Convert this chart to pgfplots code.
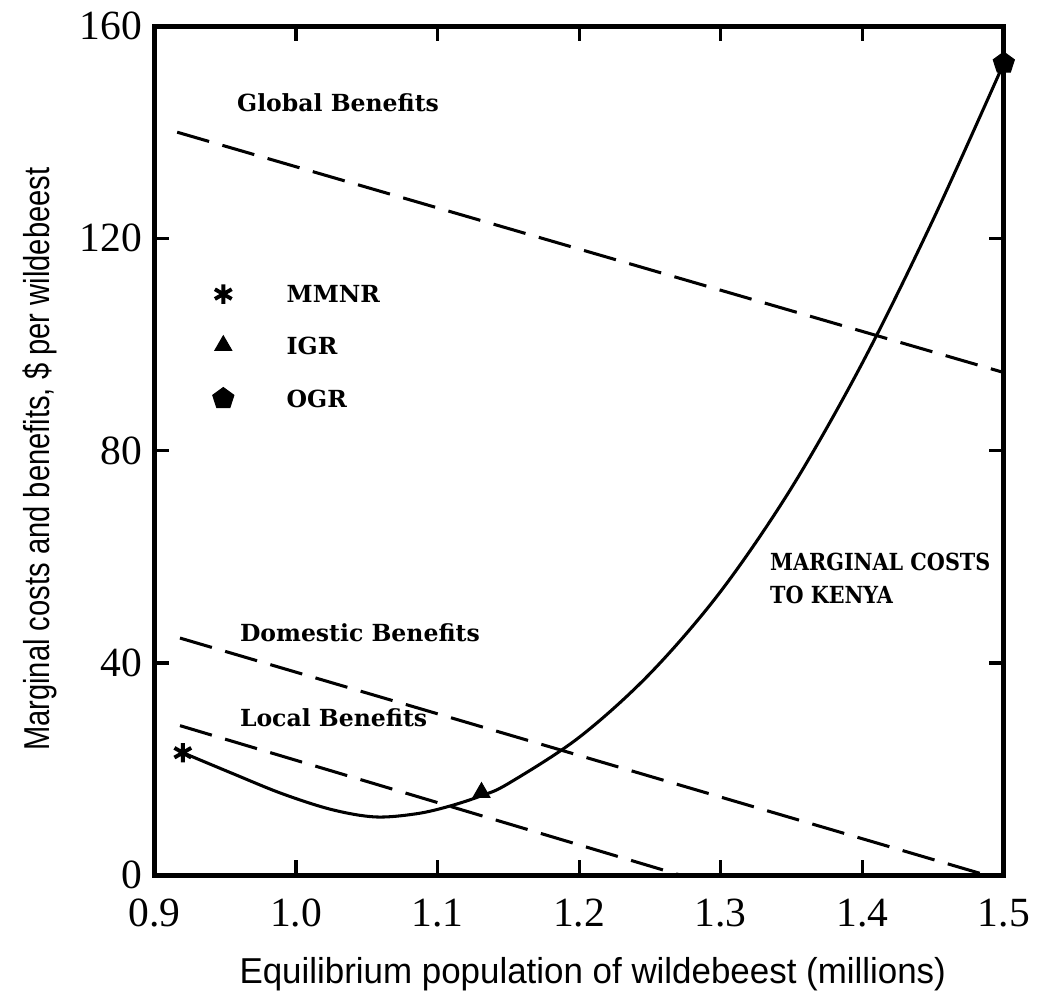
\documentclass[border=0pt]{standalone}
\usepackage{pgfplots}
\pgfplotsset{compat=1.18}
\usepackage{fontspec}
\setmainfont{Liberation Serif}
\setsansfont{Liberation Sans}
\newfontfamily\notefont{DejaVu Serif}

\newcommand{\note}{\notefont\bfseries\fontsize{8.5}{11.5}\selectfont}

\begin{document}
\begin{tikzpicture}
	\begin{axis}[
			scale only axis,
			width=306.7pt,
			height=306.7pt,
			xmin=0.9, xmax=1.5,
			ymin=0, ymax=160,
			xtick={0.9,1,1.1,1.2,1.3,1.4,1.5},
			xticklabels={0.9,1.0,1.1,1.2,1.3,1.4,1.5},
			ytick={0,40,80,120,160},
			tick align=inside,
			major tick length=5.4pt,
			axis line style={line width=1.8pt},
			tick style={line width=1.2pt, black},
			ticklabel style={font=\fontsize{15}{17}\selectfont},
			xticklabel style={yshift=-5pt},
			yticklabel style={xshift=-1pt},
			/pgf/number format/assume math mode=true,
			xlabel={\scalebox{0.97}[1]{Equilibrium population of wildebeest (millions)}},
			ylabel={\scalebox{0.81}[1]{Marginal costs and benefits, \$ per wildebeest}},
			label style={font=\sffamily\fontsize{13}{15}\selectfont},
			xlabel style={at={(axis description cs:0.516,-0.116)}, anchor=center},
			ylabel style={at={(axis description cs:-0.135,0.49)}, anchor=center},
			clip=false,
		]

		% global benefits
		\addplot [black, line width=1.1pt, dash pattern=on 12pt off 5pt] table {
		0.916	140
		1.499	94.8
		};
		% domestic benefits
		\addplot [black, line width=1.1pt, dash pattern=on 12pt off 5pt] table {
		0.918	44.7
		1.488	0
		};
		% local benefits
		\addplot [black, line width=1.1pt, dash pattern=on 12pt off 5pt] table {
		0.918	28.2
		1.272	0
		};

		% marginal costs to Kenya
		\addplot [black, line width=1.1pt, smooth, tension=0.55] table {
		0.92	23.1
		0.955	19.2
		0.99	15.4
		1.025	12.4
		1.056	11.0
		1.085	11.6
		1.108	13.0
		1.131	15.0
		1.15	17.3
		1.20	26.0
		1.25	38.0
		1.30	53.5
		1.35	73.0
		1.40	96.5
		1.45	123.5
		1.50	153.0
		};

		% regime points
		\addplot [only marks, mark=asterisk, mark size=3.5pt, line width=1.4pt, black] table {
		0.92	23.1
		0.9486	109.5
		};
		\addplot [only marks, mark=triangle*, mark size=3.5pt, black] table {
		1.131	15.6
		0.9486	99.8
		};
		\addplot [only marks, mark=pentagon*, mark size=4pt, black] table {
		1.5	153
		0.9486	89.8
		};

		\node [anchor=west, inner sep=0pt] at (axis cs:0.993,109.5) {\note MMNR};
		\node [anchor=west, inner sep=0pt] at (axis cs:0.993,99.8) {\note IGR};
		\node [anchor=west, inner sep=0pt] at (axis cs:0.993,89.8) {\note OGR};

		\node [anchor=west, inner sep=0pt] at (axis cs:0.958,145.6) {\note Global Benefits};
		\node [anchor=west, inner sep=0pt] at (axis cs:0.960,45.8) {\note Domestic Benefits};
		\node [anchor=west, inner sep=0pt] at (axis cs:0.960,29.7) {\note Local Benefits};
		\node [anchor=west, align=left, inner sep=0pt] at (axis cs:1.3345,56)
			{\note\scalebox{0.88}[1]{MARGINAL COSTS}\\ \note\scalebox{0.88}[1]{TO KENYA}};
	\end{axis}
	\path (current axis.south west) +(-55.8pt,-43.9pt) (current axis.north east) +(11.5pt,9.4pt);
\end{tikzpicture}
\end{document}
